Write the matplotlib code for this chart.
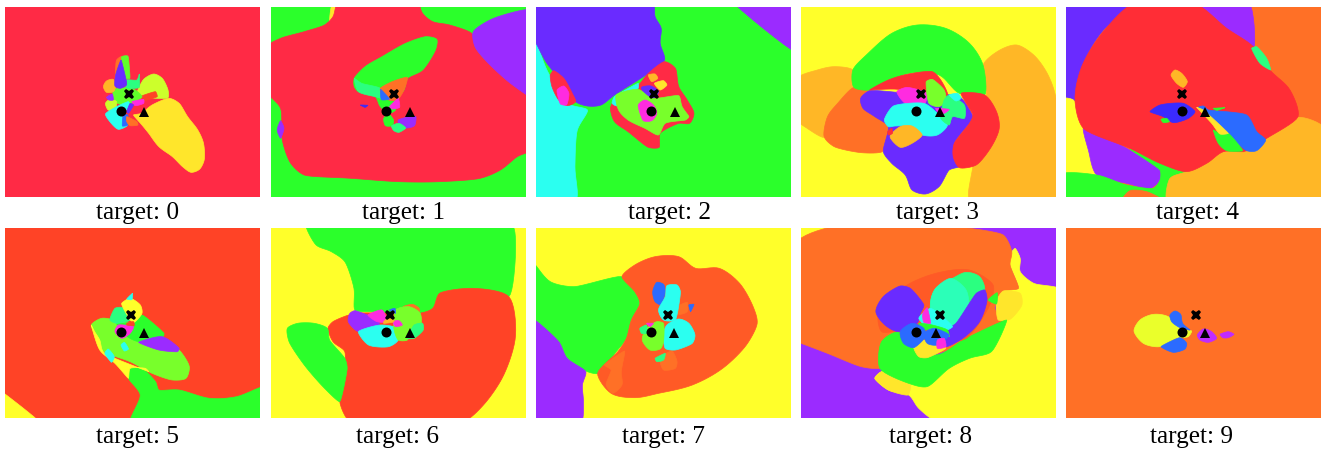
import numpy as np
import matplotlib
matplotlib.use("Agg")
import matplotlib.pyplot as plt
from matplotlib.patches import Polygon

PINK='#FF2A45'; GREEN='#2BFF2B'; YELLOW='#FFFF2A'; INDIGO='#6A2BFF'; VIOLET='#9B2BFF'
ORANGE='#FF7026'; AMBER='#FFB726'; CYAN='#2BFFF0'; LIME='#78FF2B'; MAGENTA='#FF2BE0'
RED='#FF2D36'; SPRING='#2BFF80'; BLUE='#2B6BFF'; GOLD='#FFE62B'; VERM='#FF4326'; CHART='#CCFF2B'
TEAL='#2BFFB8'; DEEPO='#FF5A26'; GRASS='#5FFF2B'; PURPLE='#C02BFF'; ROYAL='#3B2BFF'; LEMON='#EAFF2B'

titles = ['target: %d' % i for i in range(10)]
backgrounds = [PINK, GREEN, GREEN, YELLOW, ORANGE, VERM, YELLOW, YELLOW, VIOLET, ORANGE]

regions_0 = [
 (GOLD, [(418,340),(450,315),(500,295),(530,310),(555,350),(585,390),(602,430),(604,480),(590,508),(565,517),(540,500),(510,470),(470,440),(440,400),(420,375),(395,345)]),
 (CHART, [(405,280),(425,238),(455,222),(480,235),(497,270),(497,293),(465,295),(420,290)]),
 (VERM, [(415,290),(460,275),(465,290),(420,303)]),
 (GRASS, [(335,270),(370,262),(400,270),(420,290),(400,305),(370,315),(340,305)]),
 (SPRING, [(372,240),(405,240),(412,222),(412,262),(395,265),(372,262)]),
 (AMBER, [(306,260),(315,243),(335,238),(342,260),(335,275),(315,277)]),
 (ORANGE, [(342,205),(345,180),(358,170),(365,180),(372,258),(342,260)]),
 (GRASS, [(360,170),(378,168),(382,195),(384,235),(372,235),(362,190)]),
 (INDIGO, [(358,180),(372,235),(374,255),(355,265),(340,258),(342,225)]),
 (CHART, [(312,310),(325,298),(345,305),(340,330),(320,330)]),
 (CYAN, [(312,342),(345,320),(380,305),(385,320),(360,345),(378,375),(350,388),(325,365)]),
 (BLUE, [(365,345),(378,345),(378,375),(362,378)]),
 (ORANGE, [(375,350),(405,365),(408,375),(385,377),(375,365)]),
 (MAGENTA, [(390,305),(425,298),(425,310),(400,317)]),
 (INDIGO, [(375,335),(385,310),(395,315),(380,340)]),
 (VIOLET, [(315,292),(332,282),(335,300),(322,300)]),
]
regions_1 = [
 (GOLD, [(985,5),(1030,5),(975,65)]),
 (PINK, [(1235,5),(1250,40),(1280,65),(1330,75),(1395,100),(1405,140),(1430,175),(1470,210),(1510,245),(1570,290),(1570,450),(1530,470),(1480,510),(1420,535),(1300,545),(1180,545),(1040,535),(900,525),(860,490),(835,420),(830,325),(790,275),(790,140),(830,115),(900,95),(960,75),(985,50),(1000,5)]),
 (VIOLET, [(1400,95),(1460,55),(1580,30),(1580,295),(1510,250),(1440,185),(1405,140)]),
 (VIOLET, [(820,390),(830,362),(840,385),(830,415)]),
 (GREEN, [(1048,235),(1080,200),(1130,170),(1200,130),(1260,110),(1292,118),(1288,150),(1250,210),(1205,235),(1195,270),(1170,300),(1170,330),(1150,340),(1125,320),(1110,290),(1060,275),(1048,260)]),
 (SPRING, [(1048,235),(1070,250),(1125,265),(1130,295),(1110,290),(1060,275)]),
 (ORANGE, [(1125,265),(1160,245),(1205,232),(1195,270),(1175,300),(1150,300),(1128,280)]),
 (BLUE, [(1126,268),(1152,297),(1128,299)]),
 (MAGENTA, [(1152,320),(1178,295),(1182,322),(1160,327)]),
 (GREEN, [(1135,355),(1150,343),(1164,360),(1160,377),(1140,377)]),
 (VIOLET, [(1178,360),(1210,350),(1230,350),(1226,377),(1200,384),(1180,375)]),
 (SPRING, [(1158,378),(1180,370),(1200,384),(1180,397),(1165,392)]),
 (ROYAL, [(1066,315),(1088,316),(1080,322)]),
]
regions_2 = [
 (VIOLET, [(600,5),(785,5),(785,155)]),
 (CYAN, [(5,125),(20,130),(50,210),(110,310),(170,330),(140,390),(133,500),(136,600),(5,600)]),
 (INDIGO, [(5,5),(365,5),(370,50),(388,85),(385,130),(398,180),(350,220),(250,285),(210,315),(170,318),(135,305),(100,250),(50,190),(18,130),(5,115)]),
 (PINK, [(60,225),(70,212),(100,235),(125,280),(135,305),(110,317),(85,300),(65,260)]),
 (MAGENTA, [(80,270),(100,258),(115,280),(108,315),(90,312)]),
 (PINK, [(318,258),(350,220),(398,185),(430,205),(440,260),(465,300),(485,340),(472,370),(440,370),(385,400),(382,442),(350,442),(290,395),(250,365),(238,325),(250,300)]),
 (CYAN, [(250,290),(320,250),(320,265),(258,318),(243,310)]),
 (AMBER, [(350,225),(370,222),(378,235),(360,245)]),
 (GOLD, [(368,250),(395,242),(405,255),(385,270)]),
 (INDIGO, [(330,262),(358,258),(380,275),(365,295),(340,285)]),
 (LIME, [(255,285),(320,268),(360,295),(440,287),(450,320),(470,350),(460,360),(400,370),(380,405),(340,385),(290,360),(262,330)]),
 (MAGENTA, [(320,315),(340,300),(365,315),(375,340),(360,362),(335,362)]),
]
regions_3 = [
 (AMBER, [(790,235),(850,210),(900,200),(955,210),(958,262),(900,330),(870,412),(820,385),(790,360)]),
 (AMBER, [(1340,195),(1390,150),(1440,135),(1490,165),(1530,220),(1555,290),(1570,600),(1300,600),(1310,500),(1350,285)]),
 (ORANGE, [(958,262),(1005,272),(1060,380),(1055,420),(1042,455),(980,458),(900,440),(870,410),(880,350),(910,310)]),
 (GREEN, [(955,210),(1000,160),(1070,100),(1145,75),(1230,85),(1300,130),(1340,195),(1345,285),(1270,280),(1210,225),(1120,220),(1005,270),(958,262)]),
 (INDIGO, [(978,295),(1005,272),(1120,280),(1270,290),(1310,350),(1300,370),(1255,430),(1255,480),(1270,500),(1240,510),(1210,560),(1170,582),(1130,570),(1110,525),(1070,490),(1045,455),(1060,380),(1020,350),(985,325)]),
 (RED, [(1275,280),(1345,285),(1380,335),(1388,385),(1365,440),(1320,495),(1270,503),(1252,470),(1255,430),(1300,370),(1310,345)]),
 (RED, [(1005,270),(1060,240),(1120,222),(1190,215),(1215,240),(1235,285),(1190,295),(1090,268)]),
 (MAGENTA, [(1085,275),(1115,262),(1175,280),(1165,315),(1110,310)]),
 (CYAN, [(1048,360),(1075,318),(1165,310),(1205,340),(1235,375),(1205,405),(1160,405),(1120,380),(1080,378),(1060,380)]),
 (AMBER, [(1065,410),(1095,380),(1130,378),(1160,405),(1130,430),(1095,442)]),
 (RED, [(1058,395),(1070,385),(1072,400),(1060,405)]),
 (LIME, [(1172,245),(1190,238),(1225,270),(1230,300),(1210,320),(1180,310)]),
 (SPRING, [(1225,300),(1240,285),(1285,315),(1285,355),(1250,350),(1240,375),(1215,355)]),
 (CYAN, [(1240,285),(1265,280),(1275,295),(1260,303)]),
 (MAGENTA, [(1200,325),(1240,328),(1225,340),(1205,335)]),
]
regions_4 = [
 (INDIGO, [(5,5),(235,5),(130,90),(70,190),(45,300),(5,295)]),
 (VIOLET, [(395,5),(565,5),(582,140),(500,90)]),
 (YELLOW, [(5,295),(40,300),(70,380),(110,525),(18,520),(5,520)]),
 (VIOLET, [(70,385),(200,445),(300,510),(300,540),(270,565),(200,550),(110,525),(85,450)]),
 (GREEN, [(5,522),(110,525),(200,555),(280,565),(300,540),(300,510),(210,448),(235,450),(380,515),(330,535),(320,600),(5,600)]),
 (AMBER, [(320,600),(330,535),(380,515),(440,490),(490,455),(560,455),(620,415),(712,352),(795,385),(795,600)]),
 (ORANGE, [(185,600),(210,572),(260,575),(310,600)]),
 (RED, [(230,5),(395,5),(500,85),(580,140),(630,210),(690,270),(714,350),(620,415),(560,452),(490,455),(440,490),(380,515),(300,490),(210,445),(70,385),(45,300),(65,200),(130,95)]),
 (SPRING, [(575,145),(590,140),(620,175),(632,210),(600,190)]),
 (AMBER, [(333,225),(345,210),(365,220),(382,245),(370,262),(350,250)]),
 (ROYAL, [(270,335),(300,315),(370,310),(405,335),(385,355),(340,368),(310,350)]),
 (GREEN, [(303,358),(320,355),(328,365),(310,368)]),
 (BLUE, [(415,322),(430,318),(445,330),(560,345),(590,395),(617,420),(590,452),(560,452),(510,410),(470,370)]),
 (GREEN, [(460,390),(480,400),(505,400),(548,452),(500,452),(475,430)]),
 (GOLD, [(410,322),(430,330),(505,400),(480,402),(455,370)]),
 (GREEN, [(460,325),(495,323),(470,331)]),
]
regions_5 = [
 (YELLOW, [(5,500),(16,508),(115,590),(5,590)]),
 (GREEN, [(385,590),(415,510),(380,460),(385,430),(420,430),(460,470),(470,495),(530,495),(620,520),(700,515),(785,485),(785,590)]),
 (LIME, [(270,300),(300,280),(340,285),(400,300),(470,335),(530,375),(560,425),(550,460),(510,465),(450,445),(385,410),(330,390),(295,370),(282,330)]),
 (YELLOW, [(270,300),(280,320),(295,345),(305,380),(340,400),(440,440),(430,430),(385,430),(380,460),(340,415),(295,375)]),
 (CYAN, [(310,385),(320,372),(338,395),(330,412)]),
 (CYAN, [(358,360),(368,352),(380,372),(368,378)]),
 (GREEN, [(345,295),(395,292),(420,270),(485,325),(480,340),(410,350),(370,330)]),
 (SPRING, [(325,285),(340,250),(362,248),(385,285),(345,295)]),
 (YELLOW, [(360,235),(385,220),(415,240),(420,265),(397,292),(385,285),(365,250)]),
 (CYAN, [(375,222),(392,205),(390,224)]),
 (MAGENTA, [(340,320),(350,300),(395,305),(385,325),(360,340)]),
 (VERM, [(375,295),(395,290),(397,302),(375,300)]),
 (VIOLET, [(410,352),(480,335),(530,370),(525,380),(470,375)]),
]
regions_6 = [
 (GREEN, [(905,0),(1515,0),(1525,80),(1505,215),(1400,190),(1300,205),(1280,250),(1240,268),(1170,265),(1100,260),(1050,255),(1047,190),(1020,110),(980,80),(935,60)]),
 (VERM, [(970,310),(985,290),(1050,265),(1240,265),(1280,250),(1300,205),(1400,190),(1505,215),(1525,330),(1490,450),(1430,540),(1370,590),(1035,590),(1005,530),(1015,480),(1020,380),(985,350)]),
 (GREEN, [(850,310),(880,295),(930,295),(968,310),(975,345),(1020,400),(1027,430),(1005,530),(960,490),(900,420),(855,350)]),
 (VIOLET, [(1035,265),(1050,257),(1120,285),(1120,305),(1060,320),(1030,290)]),
 (MAGENTA, [(1088,270),(1130,255),(1145,290),(1115,290)]),
 (CYAN, [(1060,320),(1125,300),(1175,310),(1178,345),(1150,365),(1090,360)]),
 (ORANGE, [(1192,245),(1220,238),(1240,250),(1240,262)]),
 (LIME, [(1170,255),(1210,245),(1243,265),(1245,300),(1225,300),(1205,345),(1178,345),(1165,310)]),
 (SPRING, [(1225,300),(1250,295),(1252,315),(1225,340),(1205,340)]),
 (MAGENTA, [(1162,290),(1180,287),(1190,300),(1170,305)]),
 (AMBER, [(1135,290),(1160,270),(1165,290),(1135,295)]),
 (BLUE, [(1152,255),(1168,250),(1170,265)]),
]
regions_7 = [
 (GREEN, [(5,105),(20,125),(60,170),(130,185),(270,155),(310,200),(325,235),(300,285),(285,340),(255,380),(205,445),(170,440),(110,400),(85,350),(5,280)]),
 (VIOLET, [(5,280),(85,350),(110,400),(165,440),(155,480),(158,530),(152,590),(5,590)]),
 (DEEPO, [(272,155),(310,120),(370,95),(440,95),(490,130),(560,130),(620,175),(660,245),(672,295),(640,360),(570,430),(480,480),(380,505),(310,518),(240,505),(200,445),(260,380),(285,340),(300,285),(325,235),(310,200)]),
 (ORANGE, [(220,420),(280,378),(270,440),(272,480),(245,505),(225,480),(240,435)]),
 (ORANGE, [(385,400),(420,378),(435,410),(430,430),(395,435)]),
 (SPRING, [(370,400),(400,385),(395,405),(375,410)]),
 (ORANGE, [(437,245),(465,232),(465,260),(440,268)]),
 (BLUE, [(470,240),(485,238),(475,260)]),
 (BLUE, [(363,200),(375,172),(395,178),(400,200),(388,240),(370,230)]),
 (CYAN, [(405,182),(435,180),(445,200),(430,285),(395,285),(380,255),(400,215)]),
 (CYAN, [(395,325),(405,300),(440,282),(470,295),(488,330),(480,355),(430,375),(400,370)]),
 (LIME, [(332,345),(345,310),(375,290),(395,295),(395,350),(385,372),(355,375)]),
 (SPRING, [(325,310),(345,300),(345,325),(330,325)]),
 (MAGENTA, [(345,295),(365,295),(355,305)]),
]
regions_8 = [
 (YELLOW, [(1020,460),(1040,440),(1200,400),(1400,290),(1380,250),(1400,200),(1445,190),(1420,120),(1420,90),(1435,70),(1450,100),(1450,140),(1490,175),(1575,195),(1575,590),(1205,590),(1150,550),(1120,510),(1060,495)]),
 (YELLOW, [(785,5),(895,5),(785,55)]),
 (ORANGE, [(785,55),(895,5),(1255,5),(1400,30),(1425,80),(1420,120),(1445,190),(1400,200),(1375,250),(1400,290),(1250,370),(1040,430),(980,425),(880,385),(802,355),(785,350)]),
 (GOLD, [(1380,230),(1400,198),(1450,205),(1455,240),(1420,283),(1385,285)]),
 (GOLD, [(1020,460),(1040,440),(1125,480),(1118,510),(1060,495)]),
 (GREEN, [(1040,350),(1090,320),(1200,390),(1290,340),(1410,285),(1365,380),(1300,400),(1240,430),(1175,485),(1120,475),(1035,430)]),
 (GOLD, [(1135,365),(1160,340),(1200,350),(1230,370),(1175,398),(1150,395)]),
 (DEEPO, [(1030,270),(1100,190),(1200,145),(1300,135),(1370,180),(1360,240),(1290,340),(1200,350),(1090,320),(1040,320)]),
 (INDIGO, [(1023,260),(1045,215),(1095,183),(1125,190),(1165,240),(1155,265),(1145,295),(1090,320),(1050,300)]),
 (SPRING, [(1185,230),(1200,190),(1250,160),(1290,142),(1330,155),(1345,195),(1300,250),(1250,310),(1190,290)]),
 (TEAL, [(1185,230),(1200,190),(1245,160),(1290,195),(1295,255),(1250,305),(1195,290)]),
 (INDIGO, [(1320,205),(1345,195),(1352,225),(1330,290),(1280,340),(1230,365),(1225,320),(1260,295)]),
 (CYAN, [(1150,280),(1185,250),(1250,305),(1200,325)]),
 (MAGENTA, [(1162,265),(1175,248),(1185,295),(1165,292)]),
 (GREEN, [(1150,295),(1190,300),(1235,315),(1240,335),(1195,310),(1165,315)]),
 (BLUE, [(1095,320),(1130,295),(1165,310),(1170,335),(1135,368),(1105,355)]),
 (BLUE, [(1165,325),(1195,310),(1240,330),(1205,360),(1175,355)]),
 (MAGENTA, [(1205,345),(1225,340),(1230,365),(1205,370)]),
 (GREEN, [(1355,225),(1382,203),(1380,237)]),
]
regions_9 = [
 (LEMON, [(222,318),(240,285),(280,268),(325,275),(360,310),(395,318),(385,335),(350,340),(300,365),(250,355)]),
 (BLUE, [(330,270),(345,258),(362,268),(368,295),(390,315),(360,308),(335,290)]),
 (BLUE, [(303,365),(360,338),(380,355),(375,372),(340,382)]),
 (PURPLE, [(412,330),(430,312),(455,320),(470,340),(445,352),(420,345)]),
 (PURPLE, [(480,328),(505,320),(522,328),(505,338),(488,338)]),
]
all_regions = [regions_0, regions_1, regions_2, regions_3, regions_4,
               regions_5, regions_6, regions_7, regions_8, regions_9]

circle_points = [(359,332),(1143,332),(359,332),(1143,332),(366,332),
                 (359,322),(1143,322),(359,322),(1143,322),(366,322)]
cross_points = [(383,281),(1164,281),(367,281),(1156,281),(367,281),
                (387,271),(1155,271),(407,270),(1212,270),(407,270)]
triangle_points = [(427,335),(1212,335),(428,335),(1212,335),(434,335),
                   (427,325),(1212,325),(427,325),(1200,325),(434,325)]

W, H = 1328, 454
panel_x = [(16,770,0,2.958),(802,1555,0,2.958),(18,771,530,2.958),(802,1555,530,2.958),(18,782,1060,3.0)]
row_y = [(20,590,0),(10,579,225)]
label_x = [138,403,670,937,1197,138,398,664,931,1191]
label_y = [219,443]

def smooth(pts, n=8):
    """Closed Hermite curve through the outline points; tangents shrink at sharp corners."""
    p = np.asarray(pts, float)
    a = p - np.roll(p, 1, axis=0)
    b = np.roll(p, -1, axis=0) - p
    la = np.linalg.norm(a, axis=1, keepdims=True) + 1e-9
    lb = np.linalg.norm(b, axis=1, keepdims=True) + 1e-9
    ua, ub = a/la, b/lb
    d = ua + ub
    d = d/(np.linalg.norm(d, axis=1, keepdims=True) + 1e-9)
    cosv = np.sum(ua*ub, axis=1, keepdims=True)
    m = d*np.minimum(la, lb)*((1 + cosv)/2)
    p2, m2 = np.roll(p, -1, axis=0), np.roll(m, -1, axis=0)
    out = []
    for t in np.linspace(0, 1, n, endpoint=False):
        out.append((2*t**3-3*t**2+1)*p + (t**3-2*t**2+t)*m + (-2*t**3+3*t**2)*p2 + (t**3-t**2)*m2)
    return np.stack(out, axis=1).reshape(-1, 2)

fig = plt.figure(figsize=(W/100, H/100), dpi=100, facecolor='white')
for i in range(10):
    r, c = divmod(i, 5)
    x0, x1, ox, sx = panel_x[c]
    y0, y1, oy = row_y[r]
    L = (x0/sx + ox)/W; B = 1 - (y1/3 + oy)/H
    ax = fig.add_axes([L, B, (x1-x0)/sx/W, (y1-y0)/3/H])
    ax.set_xlim(x0, x1); ax.set_ylim(y1, y0)
    ax.set_xticks([]); ax.set_yticks([])
    for s in ax.spines.values():
        s.set_visible(False)
    ax.set_facecolor(backgrounds[i])
    for k, (col, pts) in enumerate(all_regions[i]):
        ax.add_patch(Polygon(smooth(pts), closed=True, facecolor=col, edgecolor=col, lw=0.5, zorder=2+k*0.01))
    ax.plot(*circle_points[i], 'o', color='k', ms=7.2, mew=0, zorder=5)
    ax.plot(*cross_points[i], 'X', color='k', ms=7.5, mew=0, zorder=5)
    ax.plot(*triangle_points[i], '^', color='k', ms=7, mew=0, zorder=5)
    fig.text(label_x[i]/W, 1 - label_y[r]/H, titles[i], ha='center', va='baseline',
             family='Liberation Serif', fontsize=18.2, color='black')
fig.savefig('out.png', dpi=100)
